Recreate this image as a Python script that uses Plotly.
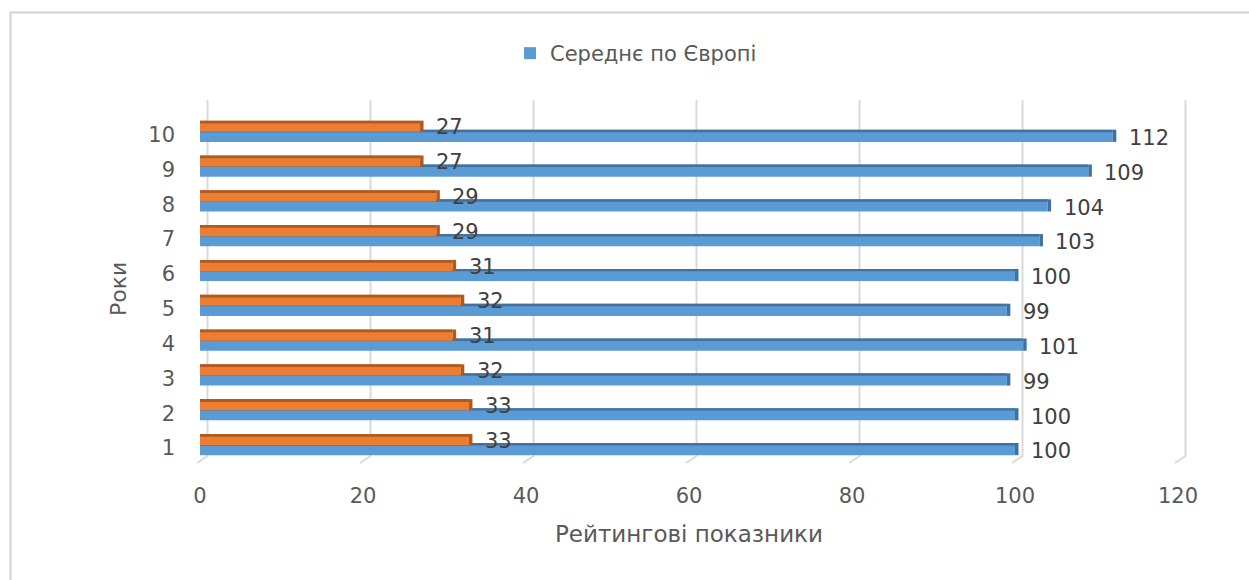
import plotly.graph_objects as go

# Data
years = [1, 2, 3, 4, 5, 6, 7, 8, 9, 10]
europe_avg = [100, 100, 99, 101, 99, 100, 103, 104, 109, 112]
second_series = [33, 33, 32, 31, 32, 31, 29, 29, 27, 27]
x_ticks = [0, 20, 40, 60, 80, 100, 120]

legend_name = "Середнє по Європі"
x_title = "Рейтингові показники"
y_title = "Роки"

# Colours
BLUE, BLUE_DARK = "#5B9BD5", "#41719C"
ORANGE, ORANGE_DARK = "#ED7D31", "#AE5A21"
GRID = "#D9D9D9"
TICK_COL = "#595959"
LABEL_COL = "#404040"
FONT = "DejaVu Sans"

# Figure geometry (pixels)
W, H = 1249, 580
ML, MR, MT, MB = 200, 71, 100, 117
PW, PH = W - ML - MR, H - MT - MB
X_RANGE = [0, 120]
Y_RANGE = [0.425, 10.853]

CAP = 0.43  # depth of the bar end faces, in axis units


def px_x(px):
    return (px - ML) / PW


def px_y(py):
    return (H - MB - py) / PH


def data_to_px_x(v):
    return ML + (v - X_RANGE[0]) / (X_RANGE[1] - X_RANGE[0]) * PW


fig = go.Figure()

# Blue series: main face, top face and end face
fig.add_trace(go.Bar(
    orientation="h", y=years, x=europe_avg, offset=-0.35, width=0.35,
    marker=dict(color=BLUE, line=dict(width=0)), name=legend_name,
    showlegend=True))
fig.add_trace(go.Bar(
    orientation="h", y=years, x=europe_avg, offset=-0.07, width=0.07,
    marker=dict(color=BLUE_DARK, line=dict(width=0)), showlegend=False,
    hoverinfo="skip"))
fig.add_trace(go.Bar(
    orientation="h", y=years, x=[CAP] * len(years), base=europe_avg,
    offset=-0.35, width=0.35,
    marker=dict(color=BLUE_DARK, line=dict(width=0)), showlegend=False,
    hoverinfo="skip"))

# Orange series: main face, top face and end face
fig.add_trace(go.Bar(
    orientation="h", y=years, x=second_series, offset=-0.06, width=0.32,
    marker=dict(color=ORANGE, line=dict(width=0)), name="Ряд 2",
    showlegend=False))
fig.add_trace(go.Bar(
    orientation="h", y=years, x=second_series, offset=0.18, width=0.08,
    marker=dict(color=ORANGE_DARK, line=dict(width=0)), showlegend=False,
    hoverinfo="skip"))
fig.add_trace(go.Bar(
    orientation="h", y=years, x=[CAP] * len(years), base=second_series,
    offset=-0.06, width=0.32,
    marker=dict(color=ORANGE_DARK, line=dict(width=0)), showlegend=False,
    hoverinfo="skip"))

# Value labels
annotations = []
for yr, v in zip(years, europe_avg):
    annotations.append(dict(
        x=v, y=yr - 0.24, xref="x", yref="y", text=str(v), showarrow=False,
        xanchor="left", yanchor="middle", xshift=14,
        font=dict(family=FONT, size=21, color=LABEL_COL)))
for yr, v in zip(years, second_series):
    annotations.append(dict(
        x=v, y=yr + 0.065, xref="x", yref="y", text=str(v), showarrow=False,
        xanchor="left", yanchor="middle", xshift=14,
        font=dict(family=FONT, size=21, color=LABEL_COL)))

# Axis titles
annotations.append(dict(
    x=px_x(688.5), y=px_y(534), xref="paper", yref="paper", text=x_title,
    showarrow=False, xanchor="center", yanchor="middle",
    font=dict(family=FONT, size=23, color=TICK_COL)))
annotations.append(dict(
    x=px_x(118), y=px_y(289), xref="paper", yref="paper", text=y_title,
    showarrow=False, xanchor="center", yanchor="middle", textangle=-90,
    font=dict(family=FONT, size=22, color=TICK_COL)))

# Gridlines on the back wall, bending down to the floor edge
shapes = []
for t in x_ticks:
    fx = data_to_px_x(t)
    path = "M {:.5f},{:.5f} L {:.5f},{:.5f} L {:.5f},{:.5f}".format(
        px_x(fx + 7.5), px_y(100), px_x(fx + 7.5), px_y(456),
        px_x(fx - 3), px_y(463))
    shapes.append(dict(type="path", path=path, xref="paper", yref="paper",
                       line=dict(color=GRID, width=2), layer="below"))

# Chart frame
shapes.append(dict(type="rect", xref="paper", yref="paper",
                   x0=px_x(10.5), x1=px_x(1260), y0=px_y(600), y1=px_y(12.5),
                   line=dict(color=GRID, width=2.5), layer="below"))

fig.update_layout(
    width=W, height=H,
    margin=dict(l=ML, r=MR, t=MT, b=MB, pad=0),
    paper_bgcolor="white", plot_bgcolor="white",
    barmode="overlay",
    font=dict(family=FONT, size=21, color=TICK_COL),
    showlegend=True,
    legend=dict(orientation="h", x=px_x(510), y=px_y(33), xanchor="left",
                yanchor="top", font=dict(family=FONT, size=21,
                                         color=TICK_COL),
                bgcolor="rgba(0,0,0,0)"),
    xaxis=dict(range=X_RANGE, tickvals=x_ticks, showgrid=False,
               zeroline=False, showline=False, ticks="",
               ticklabelstandoff=18,
               tickfont=dict(family=FONT, size=21, color=TICK_COL)),
    yaxis=dict(range=Y_RANGE, tickvals=years, showgrid=False,
               zeroline=False, showline=False, ticks="",
               ticklabelstandoff=24, ticklabelshift=5,
               tickfont=dict(family=FONT, size=21, color=TICK_COL)),
    annotations=annotations,
    shapes=shapes,
)

fig.write_html("out.html")
